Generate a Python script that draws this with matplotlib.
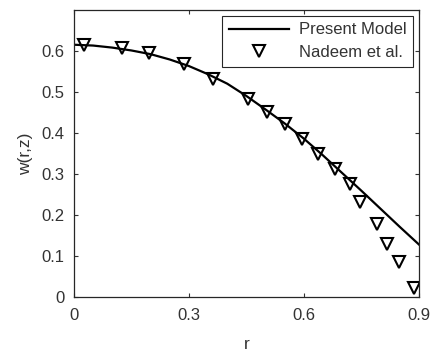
import numpy as np
import matplotlib.pyplot as plt

plt.rcParams['font.family'] = ['Liberation Sans', 'DejaVu Sans']

# Present Model curve
r_model = [0.0, 0.05, 0.1, 0.15, 0.2, 0.25, 0.3, 0.35, 0.4, 0.45,
           0.5, 0.55, 0.6, 0.65, 0.7, 0.75, 0.8, 0.85, 0.9]
w_model = [0.615, 0.613, 0.608, 0.601, 0.592, 0.579, 0.563, 0.543, 0.520, 0.490,
           0.457, 0.423, 0.386, 0.345, 0.302, 0.259, 0.215, 0.171, 0.128]

# Nadeem et al. points
r_nadeem = [0.026, 0.126, 0.197, 0.287, 0.364, 0.453, 0.505, 0.551, 0.596,
            0.636, 0.682, 0.721, 0.747, 0.792, 0.818, 0.849, 0.888]
w_nadeem = [0.615, 0.606, 0.594, 0.567, 0.532, 0.483, 0.450, 0.422, 0.385,
            0.348, 0.312, 0.276, 0.231, 0.177, 0.128, 0.085, 0.022]

xticks = [0, 0.3, 0.6, 0.9]
yticks = [0, 0.1, 0.2, 0.3, 0.4, 0.5, 0.6]

txt = '#333333'

fig = plt.figure(figsize=(4.3, 3.53), dpi=100)
ax = fig.add_axes([0.172, 0.159, 0.802, 0.813])

ax.plot(r_model, w_model, '-', color='black', linewidth=1.6, label='Present Model')
ax.plot(r_nadeem, w_nadeem, 'v', color='black', markerfacecolor='none',
        markersize=8.5, markeredgewidth=1.5, linestyle='none', label='Nadeem et al.')

ax.set_xlim(0, 0.9)
ax.set_ylim(0, 0.7)
ax.set_xticks(xticks)
ax.set_xticklabels(['0', '0.3', '0.6', '0.9'])
ax.set_yticks(yticks)
ax.set_yticklabels(['0', '0.1', '0.2', '0.3', '0.4', '0.5', '0.6'])

ax.tick_params(direction='in', length=3, width=0.8, top=True, right=True,
               labelsize=12, colors=txt, labelcolor=txt)
ax.tick_params(axis='x', pad=8)
ax.tick_params(axis='y', pad=7)
for s in ax.spines.values():
    s.set_color('#262626')
    s.set_linewidth(0.9)

ax.set_xlabel('r', fontsize=12.5, color=txt, labelpad=10)
ax.set_ylabel('w(r,z)', fontsize=12.5, color=txt, labelpad=6)

leg = ax.legend(loc='upper right', fontsize=12, fancybox=False, framealpha=1,
                edgecolor='#262626', handlelength=3.6, borderpad=0.4,
                labelspacing=0.45, handletextpad=0.6, borderaxespad=0.35)
leg.get_frame().set_linewidth(0.8)
for t in leg.get_texts():
    t.set_color(txt)

fig.savefig('out.png', dpi=100)
